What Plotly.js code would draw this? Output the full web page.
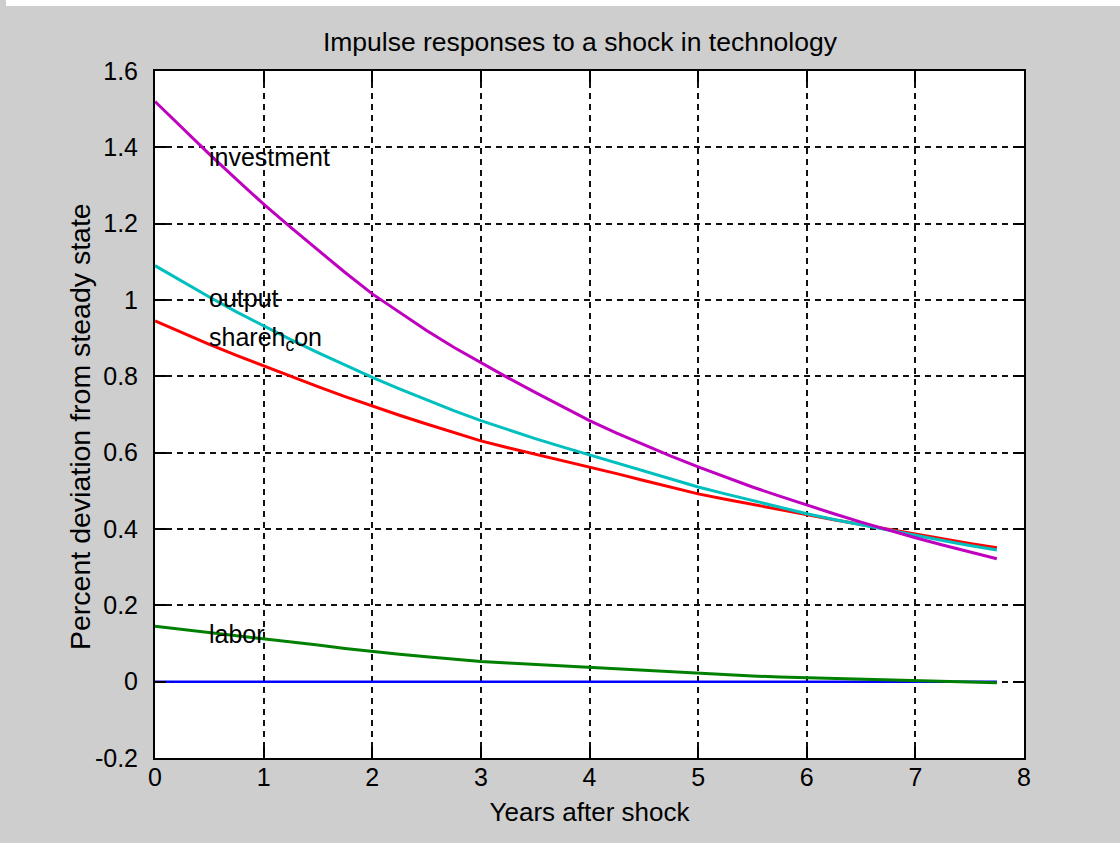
<!DOCTYPE html>
<html>
<head>
<meta charset="utf-8">
<script src="https://cdn.plot.ly/plotly-3.0.1.min.js"></script>
<style>
  html, body { margin: 0; padding: 0; background: #ffffff; }
  #chart { width: 1120px; height: 843px; }
</style>
</head>
<body>
<div id="chart"></div>
<script>
// ---- data ----
const years = [0, 0.25, 0.5, 0.75, 1, 1.25, 1.5, 1.75, 2, 2.25, 2.5, 2.75, 3, 3.25, 3.5, 3.75,
               4, 4.25, 4.5, 4.75, 5, 5.25, 5.5, 5.75, 6, 6.25, 6.5, 6.75, 7, 7.25, 7.5, 7.75];

const steadyState = [0, 0, 0, 0, 0, 0, 0, 0, 0, 0, 0, 0, 0, 0, 0, 0,
                     0, 0, 0, 0, 0, 0, 0, 0, 0, 0, 0, 0, 0, 0, 0, 0];

const labor = [0.145, 0.137, 0.129, 0.121, 0.113, 0.104, 0.096, 0.087, 0.079, 0.072, 0.065, 0.059, 0.053, 0.049, 0.045, 0.041,
               0.037, 0.033, 0.029, 0.025, 0.021, 0.018, 0.015, 0.012, 0.010, 0.008, 0.006, 0.004, 0.003, 0.001, -0.001, -0.003];

const sharehCon = [0.945, 0.914, 0.884, 0.855, 0.827, 0.800, 0.773, 0.747, 0.722, 0.698, 0.675, 0.653, 0.631, 0.613, 0.596, 0.579,
                   0.563, 0.545, 0.527, 0.509, 0.492, 0.478, 0.464, 0.450, 0.437, 0.424, 0.412, 0.399, 0.386, 0.374, 0.362, 0.351];

const output = [1.090, 1.048, 1.008, 0.969, 0.932, 0.896, 0.862, 0.829, 0.797, 0.767, 0.738, 0.710, 0.684, 0.660, 0.637, 0.615,
                0.594, 0.572, 0.551, 0.530, 0.510, 0.492, 0.474, 0.457, 0.440, 0.425, 0.411, 0.396, 0.382, 0.370, 0.357, 0.345];

const investment = [1.520, 1.450, 1.382, 1.316, 1.251, 1.190, 1.130, 1.072, 1.016, 0.967, 0.920, 0.876, 0.835, 0.796, 0.758, 0.720,
                    0.684, 0.651, 0.620, 0.591, 0.563, 0.536, 0.510, 0.486, 0.462, 0.440, 0.418, 0.397, 0.377, 0.358, 0.340, 0.322];

const xTickVals = [0, 1, 2, 3, 4, 5, 6, 7, 8];
const yTickVals = [-0.2, 0, 0.2, 0.4, 0.6, 0.8, 1, 1.2, 1.4, 1.6];
const yTickLabels = ['-0.2', '0', '0.2', '0.4', '0.6', '0.8', '1', '1.2', '1.4', '1.6'];

const labelNames = ['investment', 'output', 'shareh<sub>c</sub>on', 'labor'];
const labelX = [0.48, 0.48, 0.48, 0.48];
const labelY = [1.374, 1.005, 0.898, 0.125];

// ---- chart ----
const FONT = 'Liberation Sans, Arial, sans-serif';

const traces = [
  { x: years, y: steadyState, mode: 'lines', line: { color: '#0000ff', width: 2.5 }, name: 'steady state' },
  { x: years, y: labor, mode: 'lines', line: { color: '#008000', width: 3 }, name: 'labor' },
  { x: years, y: sharehCon, mode: 'lines', line: { color: '#ff0000', width: 3 }, name: 'shareh_con' },
  { x: years, y: output, mode: 'lines', line: { color: '#00bfbf', width: 3 }, name: 'output' },
  { x: years, y: investment, mode: 'lines', line: { color: '#bf00bf', width: 3 }, name: 'investment' }
];

const annotations = labelNames.map((t, i) => ({
  x: labelX[i], y: labelY[i], xref: 'x', yref: 'y', text: t, showarrow: false,
  xanchor: 'left', yanchor: 'middle', font: { family: FONT, size: 25, color: '#000' }
}));

annotations.push({
  x: -0.0863, y: 0.4818, xref: 'paper', yref: 'paper', xanchor: 'center', yanchor: 'middle',
  text: 'Percent deviation from steady state', textangle: -90, showarrow: false,
  font: { family: FONT, size: 28.5, color: '#000' }
});

const layout = {
  width: 1120, height: 843,
  margin: { l: 155, r: 96, t: 71, b: 85, pad: 0 },
  paper_bgcolor: '#cecece',
  plot_bgcolor: '#ffffff',
  showlegend: false,
  font: { family: FONT, color: '#000' },
  title: {
    text: 'Impulse responses to a shock in technology',
    font: { family: FONT, size: 26.5, color: '#000' },
    x: 0.489, xref: 'paper', xanchor: 'center',
    y: 0.950, yref: 'container', yanchor: 'middle'
  },
  xaxis: {
    range: [0, 8], tickvals: xTickVals, ticktext: xTickVals.map(String),
    ticks: 'inside', ticklen: 11, tickwidth: 2, tickcolor: '#000',
    showline: true, linecolor: '#000', linewidth: 2, mirror: 'ticks',
    showgrid: true, gridcolor: '#111', gridwidth: 2, griddash: '6px,5px',
    zeroline: false, tickfont: { family: FONT, size: 25, color: '#000' },
    ticklabelstandoff: -4,
    title: { text: 'Years after shock', font: { family: FONT, size: 26, color: '#000' }, standoff: 13 },
    automargin: false
  },
  yaxis: {
    range: [-0.2, 1.6], tickvals: yTickVals, ticktext: yTickLabels,
    ticks: 'inside', ticklen: 11, tickwidth: 2, tickcolor: '#000',
    showline: true, linecolor: '#000', linewidth: 2, mirror: 'ticks',
    showgrid: true, gridcolor: '#111', gridwidth: 2, griddash: '6px,5px',
    zeroline: false, tickfont: { family: FONT, size: 25, color: '#000' },
    ticklabelstandoff: 10,
    automargin: false
  },
  annotations: annotations,
  shapes: [
    { type: 'rect', xref: 'paper', yref: 'paper', layer: 'below',
      x0: -0.1715, x1: 1.12, y0: 1 + 65 / 687, y1: 1 + 72 / 687,
      fillcolor: '#ffffff', line: { width: 0 } }
  ]
};

Plotly.newPlot('chart', traces, layout, { displayModeBar: false, staticPlot: true });
</script>
</body>
</html>
